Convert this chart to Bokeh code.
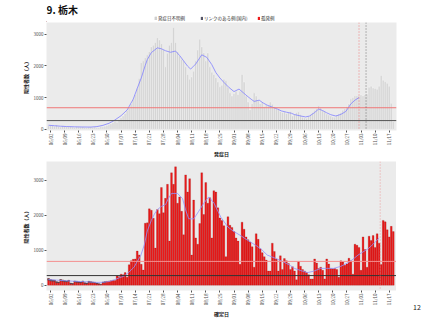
from bokeh.plotting import figure
from bokeh.layouts import column, row
from bokeh.models import Span, Label, Legend, LegendItem, FixedTicker, Range1d
from bokeh.embed import file_html
from bokeh.resources import INLINE

FONT = "Noto Sans CJK JP"

title_text = "9. 栃木"
legend_labels = ["発症日不明例", "リンクのある例(国内)", "孤発例"]
y_label = "陽性者数（人）"
x_label_top = "発症日"
x_label_bottom = "確定日"
page_number = "12"

tick_labels = ["06/02", "06/09", "06/16", "06/23", "06/30", "07/07", "07/14", "07/21",
               "07/28", "08/04", "08/11", "08/18", "08/25", "09/01", "09/08", "09/15",
               "09/22", "09/29", "10/06", "10/13", "10/20", "10/27", "11/03", "11/10", "11/17"]
y_ticks = [0, 1000, 2000, 3000]

# day index 0 = 06/02 ; series start on 06/01
first_day = -1

onset = [110,
         130, 120, 100, 140, 90, 70, 110,
         100, 90, 80, 100, 70, 60, 90,
         80, 70, 90, 60, 50, 70, 80,
         60, 70, 60, 50, 90, 80, 100,
         120, 140, 170, 210, 250, 220, 300,
         360, 420, 500, 600, 680, 800, 950,
         1100, 1300, 1600, 2100, 2160, 2260, 2350,
         2450, 2600, 2650, 2740, 2890, 2820, 2700,
         2510, 1970, 2400, 2650, 2740, 3210, 2740,
         2450, 2310, 2210, 2160, 1970, 1730, 1580,
         1650, 1830, 2160, 2500, 2840, 2600, 2410,
         2160, 2410, 1970, 1800, 1730, 1630, 1490,
         1340, 1390, 1580, 1530, 1340, 1150, 1050,
         1130, 1200, 1100, 1200, 1730, 1490, 1050,
         860, 620, 810, 1150, 1050, 900, 810,
         860, 720, 770, 740, 860, 790, 720,
         640, 620, 560, 530, 550, 500, 530,
         560, 420, 480, 530, 550, 470, 380,
         360, 350, 420, 470, 530, 600, 650,
         740, 690, 600, 550, 480, 450, 420,
         390, 380, 450, 490, 530, 600, 650,
         720, 800, 960, 1000, 1060, 1060, 1070,
         1080, 1060, 1080, 1110, 1330, 1360, 1300,
         1290, 1260, 1360, 1700, 1550, 1500, 1450,
         1360, 820, 240]

confirmed = [190,
             160, 150, 140, 100, 90, 160, 150,
             130, 120, 140, 60, 50, 120, 110,
             100, 90, 120, 70, 60, 110, 100,
             90, 80, 60, 40, 30, 90, 100,
             110, 120, 130, 140, 135, 260, 245,
             315, 300, 360, 230, 585, 695, 740,
             750, 975, 865, 596, 434, 1770, 1780,
             2180, 2140, 1910, 1060, 2160, 2040, 2790,
             2070, 2480, 2880, 1260, 3210, 2880, 3380,
             2340, 2520, 2110, 1440, 3150, 2660, 3040,
             860, 2430, 1350, 1170, 1760, 3210, 2020,
             2930, 2340, 2500, 1350, 2700, 2660, 2210,
             1920, 1850, 1700, 815, 1955, 1710, 1650,
             1530, 1350, 1260, 600, 1800, 1600, 1380,
             1300, 1235, 1100, 515, 1470, 1310, 1040,
             930, 815, 720, 405, 405, 1200, 965,
             750, 405, 840, 450, 760, 700, 620,
             450, 530, 405, 155, 680, 540, 450,
             405, 360, 300, 180, 180, 750, 635,
             480, 515, 425, 180, 750, 605, 480,
             470, 480, 450, 225, 695, 660, 570,
             605, 770, 695, 315, 1170, 1140, 1080,
             425, 1380, 1020, 515, 1400, 1280, 1420,
             1080, 1470, 1200, 590, 1850, 1810, 1580,
             1380, 1680, 1530]

# linked cases (part of the June totals)
linked_june = [50, 40, 40, 30, 30, 20, 40, 40, 30, 30, 30, 20, 20, 30, 30,
               20, 20, 30, 20, 20, 30, 30, 20, 20, 20, 10, 10, 20, 20]

onset_avg_days = [-1, 2, 5, 8, 12, 16, 20, 23, 26, 29, 31.5, 35, 38, 41, 43, 45, 47, 48, 50,
                  53, 55, 57, 59.5, 62, 64, 66, 68, 69.5, 72, 75, 77.5, 80, 82, 84, 86, 88.5,
                  91, 93.5, 95.5, 97.5, 99.5, 101, 103.5, 105.5, 107.5, 110, 112.5, 114.5, 117,
                  119.5, 121, 124, 126.5, 128.5, 131, 133, 135, 137, 139, 141.5, 144, 146.5,
                  149, 151, 153]
onset_avg = [128, 112, 98, 87, 78, 72, 70, 85, 125, 190, 275, 430, 610, 950, 1290, 1620, 2020,
             2200, 2420, 2570, 2540, 2480, 2430, 2470, 2330, 2160, 1990, 1900, 2060, 2350, 2270,
             2040, 1790, 1620, 1480, 1320, 1190, 1270, 1160, 1050, 950, 880, 920, 830, 760, 700,
             640, 580, 540, 505, 465, 420, 390, 420, 530, 640, 590, 520, 460, 420, 470, 565,
             805, 920, 1000]

conf_avg_days = [-1, 3, 7, 11, 15, 19, 23, 26, 29, 32, 34, 36.5, 39, 41.5, 43, 44.7, 46.5, 48,
                 50, 51.5, 53, 55, 57, 58.5, 60, 63, 65.5, 67, 68.5, 71, 73.5, 76, 78.5, 81,
                 84.5, 88, 91, 94.5, 97, 99.5, 102, 104.5, 107.5, 111.5, 115, 117, 119, 121,
                 124, 127.5, 130.5, 134, 137, 140.5, 144, 147.5, 150, 152.5, 155, 157.5, 160, 163]
conf_avg = [160, 145, 130, 115, 105, 95, 80, 85, 105, 160, 210, 260, 380, 520, 680, 840, 1150,
            1550, 1850, 2030, 2160, 2250, 2300, 2480, 2620, 2620, 2470, 2150, 1900, 1890, 2110,
            2340, 2520, 2350, 1940, 1660, 1530, 1410, 1310, 1220, 1130, 1030, 860, 770, 680,
            620, 560, 480, 420, 360, 400, 480, 480, 480, 540, 640, 740, 860, 950, 1040, 1170, 1350]

level_red = 680
level_black = 275
onset_red_vline = 153
onset_black_vline = 156.5
conf_red_vline = 163.5

days = list(range(first_day, first_day + len(onset)))
tick_days = [7 * i for i in range(len(tick_labels))]

BG = "#ebebeb"
GREY_BAR = "#d3d3d3"
NAVY = "#555566"
RED = "#ee1a1a"


def bare_fig(width, height):
    p = figure(width=width, height=height, output_backend="svg", toolbar_location=None,
               x_range=Range1d(0, width), y_range=Range1d(0, height),
               x_axis_type=None, y_axis_type=None, title=None, min_border=0)
    p.outline_line_color = None
    p.grid.visible = False
    p.background_fill_color = "white"
    return p


def make_fig(width, height, y0, y1, top_border, bottom_border, right_border, xlabel):
    p = figure(width=width, height=height, output_backend="svg", toolbar_location=None,
               x_range=Range1d(-2.0, 171.6), y_range=Range1d(y0, y1), title=None,
               min_border_left=46, min_border_right=right_border,
               min_border_top=top_border, min_border_bottom=bottom_border)
    p.background_fill_color = BG
    p.border_fill_color = "white"
    p.outline_line_color = None
    p.grid.visible = False
    p.xaxis.ticker = FixedTicker(ticks=tick_days)
    p.xaxis.major_label_overrides = {d: s for d, s in zip(tick_days, tick_labels)}
    p.xaxis.major_label_orientation = 1.5708
    p.yaxis.ticker = FixedTicker(ticks=y_ticks)
    for ax in (p.xaxis[0], p.yaxis[0]):
        ax.axis_line_color = None
        ax.major_tick_in = 0
        ax.major_tick_out = 2
        ax.major_tick_line_color = "#555555"
        ax.minor_tick_line_color = None
        ax.major_label_text_font = FONT
        ax.major_label_text_font_size = "4.5px"
        ax.major_label_text_color = "#4d4d4d"
        ax.major_label_standoff = 1
        ax.axis_label_text_font = FONT
        ax.axis_label_text_font_size = "5px"
        ax.axis_label_text_font_style = "bold"
        ax.axis_label_text_color = "#222222"
        ax.axis_label_standoff = 2
    p.xaxis.axis_label = xlabel
    p.yaxis.axis_label = y_label
    return p


# ---------- header: title + legend (frame aligned with the panels: starts at x=46) ----------
head = bare_fig(427, 22)
# legend keys: one point far outside the visible header range so only the key shows
r_grey = head.vbar(x=[-500], top=[1], width=1, fill_color=GREY_BAR, line_color="#bbbbbb", line_width=0.3)
r_navy = head.vbar(x=[-500], top=[1], width=1, fill_color=NAVY, line_color=None)
r_red = head.vbar(x=[-500], top=[1], width=1, fill_color=RED, line_color=None)
legend_x = [108, 154, 211]
for lab, r, lx in zip(legend_labels, [r_grey, r_navy, r_red], legend_x):
    lg = Legend(items=[LegendItem(label=lab, renderers=[r])], location=(lx, 1.5),
                orientation="horizontal", label_text_font=FONT, label_text_font_size="4.5px",
                label_text_color="#333333", glyph_width=3, glyph_height=4, label_height=4,
                label_width=4, label_standoff=1, spacing=0, padding=0, margin=0,
                background_fill_alpha=0, border_line_color=None)
    head.add_layout(lg)
head.add_layout(Label(x=0, y=13, x_units="screen", y_units="screen", text=title_text,
                      text_font=FONT, text_font_size="10px", text_font_style="bold",
                      text_color="#111111", text_baseline="alphabetic"))

# ---------- top panel (onset date) ----------
p1 = make_fig(427, 138, -38, 3370, 0, 21, 31, x_label_top)
p1.vbar(x=days, top=onset, width=0.9, fill_color=GREY_BAR, line_color="white", line_width=0.3)
p1.line(onset_avg_days, onset_avg, line_color="#8080ff", line_width=0.8)
p1.add_layout(Span(location=level_red, dimension="width", line_color="#f07878", line_width=1))
p1.add_layout(Span(location=level_black, dimension="width", line_color="#555555", line_width=1))
p1.add_layout(Span(location=onset_red_vline, dimension="height", line_color="#f05050",
                   line_width=0.7, line_dash="1 2"))
p1.add_layout(Span(location=onset_black_vline, dimension="height", line_color="#444444",
                   line_width=0.7, line_dash="1 2"))

# ---------- bottom panel (confirmation date) ----------
p2 = make_fig(396, 160, -151, 3532, 1, 23, 0, x_label_bottom)
p2.vbar(x=days, top=confirmed, width=0.9, fill_color=RED,
        line_color="#7a0000", line_width=0.2)
june_days = days[:len(linked_june)]
june_tot = confirmed[:len(linked_june)]
p2.vbar(x=june_days, top=june_tot, bottom=[t - l for t, l in zip(june_tot, linked_june)],
        width=0.9, fill_color=NAVY, line_color="#333344", line_width=0.2)
p2.line(conf_avg_days, conf_avg, line_color="#9090ff", line_width=0.8)
p2.add_layout(Span(location=level_red, dimension="width", line_color="#f49090", line_width=1))
p2.add_layout(Span(location=level_black, dimension="width", line_color="#333333", line_width=1))
p2.add_layout(Span(location=conf_red_vline, dimension="height", line_color="#f08080",
                   line_width=0.7, line_dash="1 2"))

# page number: shown as the x-axis label of a narrow side figure
side = figure(width=31, height=160, output_backend="svg", toolbar_location=None, title=None,
              x_range=Range1d(0, 1), y_range=Range1d(0, 1), y_axis_type=None,
              min_border_left=10, min_border_right=0, min_border_top=1, min_border_bottom=23)
side.outline_line_color = None
side.grid.visible = False
side.background_fill_color = "white"
sax = side.xaxis[0]
sax.ticker = FixedTicker(ticks=[])
sax.axis_line_color = None
sax.major_tick_out = 0
sax.major_tick_in = 0
sax.minor_tick_line_color = None
sax.major_label_text_font_size = "0px"
sax.axis_label = page_number
sax.axis_label_text_font = FONT
sax.axis_label_text_font_size = "7px"
sax.axis_label_text_font_style = "normal"
sax.axis_label_text_color = "#222222"
sax.axis_label_standoff = 13

layout = column(head, p1, row(p2, side, spacing=0), spacing=0)
open("out.html", "w").write(file_html(layout, INLINE))
